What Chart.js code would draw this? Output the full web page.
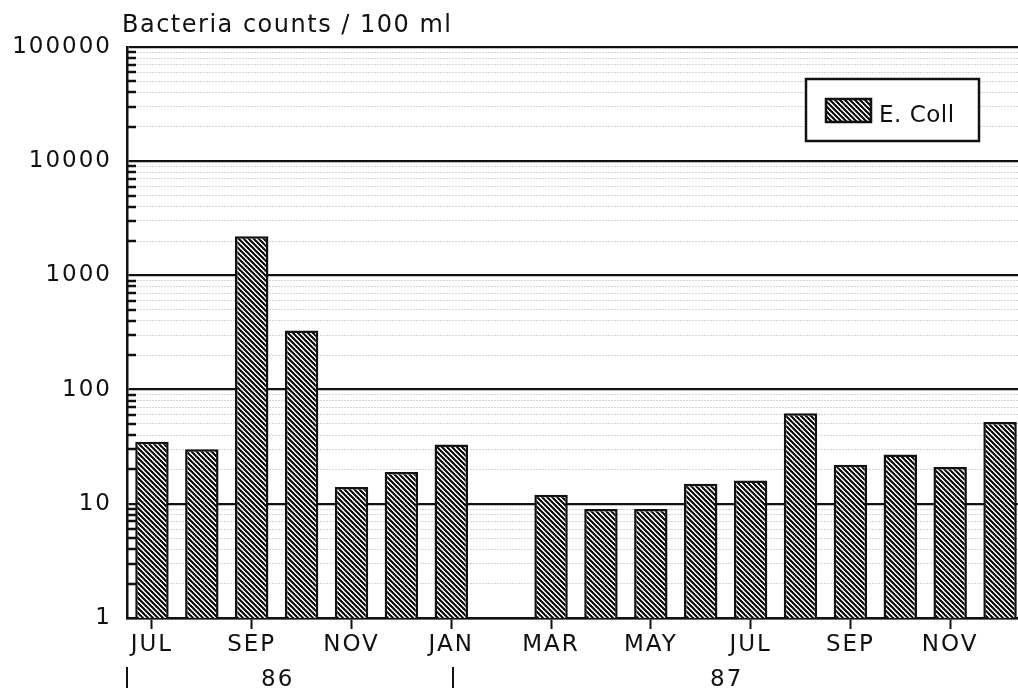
<!DOCTYPE html>
<html>
<head>
<meta charset="utf-8">
<script src="https://cdn.jsdelivr.net/npm/chart.js@4.4.0/dist/chart.umd.min.js"></script>
<style>
  html, body { margin: 0; padding: 0; background: #fff; overflow: hidden; }
  #wrap { position: relative; width: 1025px; height: 690px; }
</style>
</head>
<body>
<div id="wrap"><canvas id="chart"></canvas></div>
<script>
// --- Data ---
const months = ['JUL','AUG','SEP','OCT','NOV','DEC','JAN','FEB','MAR','APR','MAY','JUN','JUL','AUG','SEP','OCT','NOV','DEC'];
const ecoli = [35, 30, 2200, 330, 14, 19, 33, null, 12, 9, 9, 15, 16, 62, 22, 27, 21, 52];
const years = ['86', '87'];
const yearFirst = [0, 6];      // first month index of each year
const yearLast = [5, 17];      // last month index of each year
const yearMarks = [-0.5, 6];   // where the little "|" separators sit
const decades = [1, 10, 100, 1000, 10000, 100000];
const titleText = 'Bacteria counts / 100 ml';
const seriesName = 'E. Coll';

const FONT = '"DejaVu Sans", sans-serif';
const INK = '#111';

// y ticks: every decade plus 2..9 in between
const yTicks = [];
decades.forEach((d, i) => {
    yTicks.push(d);
    if (i < decades.length - 1) for (let k = 2; k <= 9; k++) yTicks.push(d * k);
});
const isDecade = v => decades.includes(v);

// --- Hatch fill "\\\" ---
function makeHatch() {
    const c = document.createElement('canvas');
    c.width = 5; c.height = 5;
    const g = c.getContext('2d');
    g.fillStyle = '#fff';
    g.fillRect(0, 0, 5, 5);
    g.strokeStyle = '#000';
    g.lineWidth = 2.0;
    for (let k = -1; k <= 1; k++) {
        g.beginPath();
        g.moveTo(-1, -1 + 5 * k);
        g.lineTo(6, 6 + 5 * k);
        g.stroke();
    }
    return g.createPattern(c, 'repeat');
}
const hatch = makeHatch();

// --- Extra drawing: inner ticks, title, year row, boxed legend ---
const decor = {
    id: 'decor',
    beforeDraw(chart) {
        chart.ctx.letterSpacing = '2px';
    },
    beforeDatasetsDraw(chart) {
        const { ctx, chartArea, scales: { y } } = chart;
        ctx.save();
        ctx.strokeStyle = INK;
        ctx.lineWidth = 2.5;
        yTicks.forEach(v => {
            if (isDecade(v)) return;
            const py = Math.round(y.getPixelForValue(v));
            ctx.beginPath();
            ctx.moveTo(chartArea.left, py);
            ctx.lineTo(chartArea.left + 9, py);
            ctx.stroke();
        });
        ctx.restore();
    },
    afterDraw(chart) {
        const { ctx, chartArea, scales: { x } } = chart;
        ctx.save();
        ctx.fillStyle = INK;
        ctx.strokeStyle = INK;

        // title
        ctx.letterSpacing = '1.5px';
        ctx.font = '24px ' + FONT;
        ctx.textAlign = 'left';
        ctx.textBaseline = 'alphabetic';
        ctx.fillText(titleText, 122, 32);

        // year row
        ctx.letterSpacing = '2px';
        ctx.font = '23px ' + FONT;
        ctx.textAlign = 'center';
        years.forEach((yr, i) => {
            const cx = (x.getPixelForValue(yearFirst[i]) + x.getPixelForValue(yearLast[i])) / 2;
            ctx.fillText(yr, cx + 1, 686);
        });
        ctx.lineWidth = 2;
        yearMarks.forEach((m, i) => {
            const px = Math.round(x.getPixelForValue(m)) + (i === 0 ? 0 : 2);
            ctx.beginPath();
            ctx.moveTo(px, 667);
            ctx.lineTo(px, 688);
            ctx.stroke();
        });

        // boxed legend
        const bw = 173, bh = 62;
        const bx = chartArea.right - 46 - bw;
        const by = chartArea.top + 32;
        ctx.fillStyle = '#fff';
        ctx.fillRect(bx, by, bw, bh);
        ctx.lineWidth = 2.5;
        ctx.strokeRect(bx, by, bw, bh);
        ctx.fillStyle = hatch;
        ctx.fillRect(bx + 20, by + 20, 45, 23);
        ctx.strokeRect(bx + 20, by + 20, 45, 23);
        ctx.fillStyle = INK;
        ctx.letterSpacing = '0.5px';
        ctx.textAlign = 'left';
        ctx.fillText(seriesName, bx + 73, by + 43);
        ctx.restore();
    }
};

// --- Chart ---
const ctx = document.getElementById('chart').getContext('2d');
new Chart(ctx, {
    type: 'bar',
    data: {
        labels: months,
        datasets: [{
            label: seriesName,
            data: ecoli,
            backgroundColor: hatch,
            borderColor: INK,
            borderWidth: 2.5,
            borderSkipped: 'start',
            barPercentage: 0.67,
            categoryPercentage: 1.0
        }]
    },
    options: {
        responsive: true,
        maintainAspectRatio: false,
        animation: false,
        devicePixelRatio: 1,
        layout: { padding: { top: 47, left: 0, right: 0, bottom: 0 } },
        plugins: {
            legend: { display: false },
            title: { display: false },
            tooltip: { enabled: false }
        },
        scales: {
            x: {
                type: 'category',
                offset: true,
                grid: {
                    offset: false,
                    drawOnChartArea: false,
                    drawTicks: true,
                    tickLength: 11,
                    tickWidth: 2,
                    tickColor: c => (c.index % 2 === 0 ? INK : 'rgba(0,0,0,0)')
                },
                border: { color: INK, width: 2.5 },
                ticks: {
                    autoSkip: false, maxRotation: 0, minRotation: 0, padding: 2,
                    color: INK, font: { family: FONT, size: 23 },
                    callback: (v, i) => (i % 2 === 0 ? months[i] : '')
                },
                afterFit: s => { s.height = 72; }
            },
            y: {
                type: 'logarithmic',
                min: 1,
                max: 100000,
                afterBuildTicks: s => { s.ticks = yTicks.map(v => ({ value: v })); },
                grid: {
                    drawTicks: false,
                    color: c => (c.tick && !isDecade(c.tick.value) ? 'rgba(0,0,0,0.33)' : INK),
                    lineWidth: c => (c.tick && !isDecade(c.tick.value) ? 1 : 2.2)
                },
                border: {
                    color: INK, width: 2.5,
                    dash: c => (c.tick && !isDecade(c.tick.value) ? [1, 2] : [])
                },
                ticks: {
                    autoSkip: false, padding: 15,
                    color: INK, font: { family: FONT, size: 23 },
                    callback: v => (isDecade(v) ? String(v) : '')
                },
                afterFit: s => { s.width = 127; }
            }
        }
    },
    plugins: [decor]
});
</script>
</body>
</html>
